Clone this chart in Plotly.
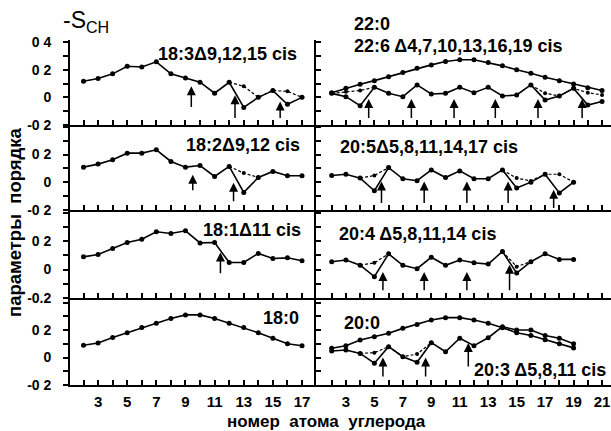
import plotly.graph_objects as go

W, H = 611, 431

# ---------------- data ----------------
x18 = list(range(2, 18))
x20 = list(range(2, 20))
x22 = list(range(2, 22))

s18_3 = [0.116, 0.136, 0.17, 0.225, 0.22, 0.257, 0.17, 0.14, 0.11, 0.03, 0.109, -0.073, 0.0, 0.049, -0.05, 0.0]
s18_3_dash = [None] * 10 + [0.109, 0.08, 0.0, 0.049, 0.044, 0.0]
s18_2 = [0.109, 0.131, 0.162, 0.21, 0.21, 0.234, 0.15, 0.109, 0.121, 0.042, 0.114, -0.073, 0.035, 0.078, 0.047, 0.047]
s18_2_dash = [None] * 10 + [0.114, 0.066, 0.035, None, None, None]
s18_1 = [0.089, 0.106, 0.148, 0.19, 0.213, 0.265, 0.253, 0.272, 0.187, 0.19, 0.049, 0.049, 0.113, 0.077, 0.082, 0.061]
s18_0 = [0.089, 0.106, 0.145, 0.18, 0.218, 0.25, 0.284, 0.31, 0.31, 0.284, 0.25, 0.218, 0.18, 0.14, 0.1, 0.085]

s22_0 = [0.034, 0.065, 0.095, 0.121, 0.15, 0.18, 0.21, 0.235, 0.26, 0.272, 0.272, 0.252, 0.228, 0.199, 0.175, 0.145, 0.121, 0.097, 0.07, 0.049]
s22_6 = [0.029, 0.005, -0.06, 0.073, 0.029, 0.005, 0.09, 0.024, 0.029, 0.073, 0.034, 0.073, 0.01, 0.017, 0.09, -0.02, 0.01, 0.065, -0.056, -0.03]
s22_6_dash = [0.029, 0.04, 0.05, 0.073] + [None] * 10 + [0.09, 0.03, 0.01, 0.065, 0.034, 0.017]

s20_5 = [0.049, 0.058, 0.03, -0.061, 0.106, 0.025, 0.011, 0.089, 0.034, 0.082, 0.025, 0.025, 0.089, -0.041, 0.001, 0.058, -0.077, 0.001]
s20_5_dash = [None, None, 0.03, 0.049, 0.106] + [None] * 7 + [0.089, 0.03, 0.01, 0.058, 0.058, 0.001]
s20_4 = [0.055, 0.067, 0.03, -0.05, 0.11, 0.03, 0.006, 0.086, 0.03, 0.067, 0.047, 0.038, 0.127, -0.025, 0.055, 0.11, 0.071, 0.071]
s20_4_dash = [None, None, 0.03, 0.047, 0.11] + [None] * 7 + [0.127, 0.02, 0.055, None, None, None]
s20_0 = [0.067, 0.086, 0.127, 0.151, 0.176, 0.212, 0.241, 0.273, 0.29, 0.29, 0.273, 0.249, 0.217, 0.18, 0.16, 0.13, 0.1, 0.07]
s20_3 = [0.047, 0.055, 0.03, -0.042, 0.079, 0.006, -0.035, 0.108, 0.042, 0.14, 0.086, 0.144, 0.224, 0.2, 0.2, 0.16, 0.14, 0.1]
s20_3_dash = [None, None, 0.03, 0.035, 0.079, 0.006, 0.025, 0.108] + [None] * 10

# arrows: (x, tail value, head value)
arr_18_3 = [(9.4, -0.08, 0.08), (12.4, -0.16, 0.015), (15.5, -0.16, -0.03)]
arr_18_2 = [(9.5, -0.068, 0.054), (12.3, -0.147, -0.004)]
arr_18_1 = [(11.4, -0.036, 0.12)]
arr_22_6 = [(4.6, -0.16, -0.012), (7.6, -0.16, -0.012), (10.6, -0.16, -0.012),
            (13.5, -0.16, -0.012), (16.5, -0.16, -0.012), (19.6, -0.16, -0.012)]
arr_20_5 = [(5.5, -0.16, 0.006), (8.5, -0.16, 0.006), (11.5, -0.16, 0.006),
            (14.4, -0.16, 0.006), (17.6, -0.196, -0.054)]
arr_20_4 = [(5.6, -0.156, -0.018), (8.5, -0.156, -0.018), (11.5, -0.156, -0.018), (14.5, -0.156, 0.033)]
arr_20_3 = [(5.6, -0.149, 0.0), (8.6, -0.149, 0.0), (11.6, -0.076, 0.105)]

ytick_vals = [-0.2, -0.1, 0.0, 0.1, 0.2, 0.3, 0.4]
ytext_row = [
    ["-0 2", "", "0", "", "0 2", "", "0 4"],
    ["-0 2", "", "0", "", "0 2", "", ""],
    ["-0.2", "", "0", "", "0 2", "", ""],
    ["-0 2", "", "0", "", "0 2", "", ""],
]
xt_left = list(range(2, 18))
xt_right = list(range(2, 22))
xlab_left = [str(v) if v % 2 == 1 else "" for v in xt_left]
xlab_right = [str(v) if v % 2 == 1 else "" for v in xt_right]

# ---------------- layout helpers ----------------
FONT = "Arial, Liberation Sans, sans-serif"
row_px = [(40, 125), (125, 210), (210, 298), (298, 385)]
row_top = [0.415, 0.413, 0.418, 0.433]
col_px = [(70, 316), (316, 611)]
col_range = [(1.073, 17.96), (0.897, 21.63)]


def py(v):
    return 1 - v / H


def pxx(v):
    return v / W


fig = go.Figure()

line_style = dict(color="black", width=1.6)
dash_style = dict(color="black", width=1.2, dash="3px,2px")


def add_line(n, xs, ys, dashed=False):
    ax = "" if n == 1 else str(n)
    fig.add_trace(go.Scatter(
        x=xs, y=ys, mode="lines+markers",
        line=dash_style if dashed else line_style,
        marker=dict(color="black", size=4 if dashed else 5),
        xaxis="x" + ax, yaxis="y" + ax, showlegend=False,
        connectgaps=False, hoverinfo="skip"))


# panel numbers: 1 L r0, 2 R r0, 3 L r1, 4 R r1, 5 L r2, 6 R r2, 7 L r3, 8 R r3
add_line(1, x18, s18_3_dash, True)
add_line(1, x18, s18_3)
add_line(3, x18, s18_2_dash, True)
add_line(3, x18, s18_2)
add_line(5, x18, s18_1)
add_line(7, x18, s18_0)
add_line(2, x22, s22_0)
add_line(2, x22, s22_6_dash, True)
add_line(2, x22, s22_6)
add_line(4, x20, s20_5_dash, True)
add_line(4, x20, s20_5)
add_line(6, x20, s20_4_dash, True)
add_line(6, x20, s20_4)
add_line(8, x20, s20_0)
add_line(8, x20, s20_3_dash, True)
add_line(8, x20, s20_3)

layout = dict(width=W, height=H, margin=dict(l=0, r=0, t=0, b=0, autoexpand=False),
              template="none",
              paper_bgcolor="white", plot_bgcolor="white", showlegend=False)

for n in range(1, 9):
    c = (n - 1) % 2
    r = (n - 1) // 2
    ax = "" if n == 1 else str(n)
    x0, x1 = col_px[c]
    t, b = row_px[r]
    xa = dict(domain=[pxx(x0), pxx(x1)], range=list(col_range[c]), anchor="y" + ax,
              automargin=False,
              showgrid=False, zeroline=False, showline=True, linecolor="black", linewidth=1.8,
              ticks="inside", ticklen=5, tickwidth=1.5, tickcolor="black",
              tickvals=xt_left if c == 0 else xt_right,
              ticktext=xlab_left if c == 0 else xlab_right,
              showticklabels=(r == 3), ticklabelstandoff=2, ticklabeloverflow="allow",
              tickfont=dict(family=FONT, size=15, color="black", weight="bold"))
    ya = dict(domain=[py(b), py(t)], range=[-0.2, row_top[r]], anchor="x" + ax,
              automargin=False,
              showgrid=False, zeroline=False, showline=True, linecolor="black", linewidth=1.8,
              ticks="outside" if c == 0 else "inside", ticklen=5, tickwidth=1.5, tickcolor="black",
              tickvals=ytick_vals, ticktext=ytext_row[r], showticklabels=(c == 0),
              ticklabelstandoff=9, ticklabeloverflow="allow",
              tickfont=dict(family=FONT, size=14, color="black", weight="bold"))
    layout["xaxis" + ax] = xa
    layout["yaxis" + ax] = ya

fig.update_layout(**layout)

anns = []


def arrows(n, lst):
    ax = "" if n == 1 else str(n)
    for (xv, tail, head) in lst:
        anns.append(dict(x=xv, y=head, ax=xv, ay=tail, xref="x" + ax, yref="y" + ax,
                         axref="x" + ax, ayref="y" + ax, text="", showarrow=True,
                         arrowhead=2, arrowsize=1.2, arrowwidth=1.5, arrowcolor="black",
                         standoff=0, startstandoff=0))


arrows(1, arr_18_3)
arrows(3, arr_18_2)
arrows(5, arr_18_1)
arrows(2, arr_22_6)
arrows(4, arr_20_5)
arrows(6, arr_20_4)
arrows(8, arr_20_3)


def label(text, left_px, cy_px, size=18, bold=True):
    anns.append(dict(x=pxx(left_px), y=py(cy_px), xref="paper", yref="paper",
                     xanchor="left", yanchor="middle", text=text, showarrow=False,
                     font=dict(family=FONT, size=size, color="black",
                               weight="bold" if bold else "normal")))


label("18:3Δ9,12,15 cis", 156, 54)
label("22:0", 352, 24)
label("22:6 Δ4,7,10,13,16,19 cis", 352, 46)
label("18:2Δ9,12 cis", 184, 145)
label("20:5Δ5,8,11,14,17 cis", 338, 147)
label("18:1Δ11 cis", 201, 230)
label("20:4 Δ5,8,11,14 cis", 337, 234)
label("18:0", 261, 318)
label("20:0", 342, 323)
label("20:3 Δ5,8,11 cis", 472, 370)
label("-S<sub>CH</sub>", 61, 21, size=23, bold=False)

anns.append(dict(x=pxx(15), y=py(222), xref="paper", yref="paper", xanchor="center",
                 yanchor="middle", textangle=-90, showarrow=False,
                 text="параметры\u00a0\u00a0порядка",
                 font=dict(family=FONT, size=18.5, color="black", weight="bold")))
anns.append(dict(x=pxx(326), y=py(421), xref="paper", yref="paper", xanchor="center",
                 yanchor="middle", showarrow=False,
                 text="номер\u00a0\u00a0атома\u00a0\u00a0углерода",
                 font=dict(family=FONT, size=17, color="black", weight="bold")))

fig.update_layout(annotations=anns)
fig.write_html("out.html")
